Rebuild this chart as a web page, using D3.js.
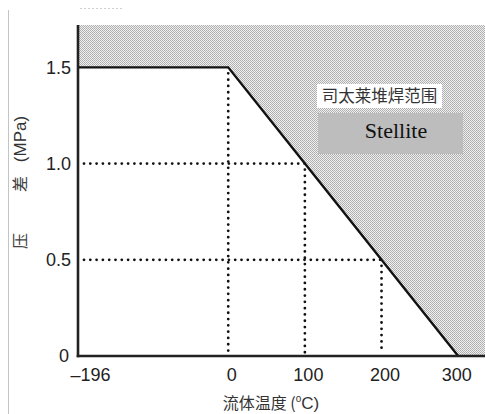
<!DOCTYPE html>
<html><head><meta charset="utf-8">
<script src="https://cdn.jsdelivr.net/npm/d3@7/dist/d3.min.js"></script>
<style>html,body{margin:0;padding:0;background:#fff;}svg{display:block;}</style>
</head><body>
<svg id="c" width="485" height="414"></svg>
<script>
// Data
const limitTemps = [-196, 0, 100, 200, 300];          // °C
const limitPressures = [1.5, 1.5, 1.0, 0.5, 0];       // MPa
const refTemps = [0, 100, 200];                        // dotted guide verticals
const refPressures = [1.5, 1.0, 0.5];
const xTicks = [-196, 0, 100, 200, 300];
const xTickLabels = ["\u2013196", "0", "100", "200", "300"];
const yTicks = [0, 0.5, 1.0, 1.5];
const yTickLabels = ["0", "0.5", "1.0", "1.5"];
const regionLabel = "司太莱堆焊范围";
const regionLabelEn = "Stellite";

const svg = d3.select("#c");
const x = d3.scaleLinear().domain([-196, 335]).range([78, 485]);
const y = d3.scaleLinear().domain([0, 1.72]).range([356, 25]);

// pattern
const defs = svg.append("defs");
const pat = defs.append("pattern").attr("id","dots").attr("patternUnits","userSpaceOnUse")
  .attr("width",2).attr("height",2);
pat.append("rect").attr("width",2).attr("height",2).attr("fill","#f0f0f0");
pat.append("rect").attr("x",0).attr("y",0).attr("width",1).attr("height",1).attr("fill","#acacac");
pat.append("rect").attr("x",1).attr("y",1).attr("width",1).attr("height",1).attr("fill","#b4b4b4");

// faint page border line and top marks
svg.append("line").attr("x1",8.5).attr("x2",8.5).attr("y1",10).attr("y2",414)
  .attr("stroke","#c4c4c4").attr("stroke-width",1);
svg.append("line").attr("x1",80).attr("x2",123).attr("y1",8.5).attr("y2",8.5)
  .attr("stroke","#d0d0d0").attr("stroke-width",1).attr("stroke-dasharray","2,2");

// shaded region above limit curve
const pts = limitTemps.map((t,i)=>[x(t), y(limitPressures[i])]);
const areaPts = [[x(-196), y(1.72)], ...pts, [x(335), y(0)], [x(335), y(1.72)]];
svg.append("path").attr("d", d3.line()(areaPts) + "Z").attr("fill","url(#dots)");

// dotted guides
const dotted = g => g.attr("stroke","#111").attr("stroke-width",2.8)
  .attr("stroke-linecap","round").attr("stroke-dasharray","0,6.3").attr("fill","none");
refTemps.forEach((t,i)=>{
  svg.append("line").attr("x1",x(t)).attr("x2",x(t)).attr("y1",y(refPressures[i])+6).attr("y2",y(0)-3).call(dotted);
});
refPressures.slice(1).forEach((p,i)=>{
  svg.append("line").attr("x1",x(-196)+6).attr("x2",x(refTemps[i+1])).attr("y1",y(p)).attr("y2",y(p)).call(dotted);
});

// limit line
svg.append("path").attr("d", d3.line()(pts)).attr("fill","none")
  .attr("stroke","#111").attr("stroke-width",2.4).attr("stroke-linejoin","miter");

// axes spines
svg.append("line").attr("x1",x(-196)).attr("x2",x(-196)).attr("y1",y(1.72)).attr("y2",y(0)+1.2)
  .attr("stroke","#222").attr("stroke-width",2.6);
svg.append("line").attr("x1",x(-196)-1.3).attr("x2",485).attr("y1",y(0)).attr("y2",y(0))
  .attr("stroke","#222").attr("stroke-width",2.6);

// axes tick labels via d3 axes
const yAxis = d3.axisLeft(y).tickValues(yTicks).tickSize(0).tickPadding(7)
  .tickFormat((d,i)=>yTickLabels[i]);
const gy = svg.append("g").attr("transform",`translate(${x(-196)},0)`).call(yAxis);
gy.select(".domain").remove();
gy.selectAll("text").attr("font-family","Liberation Sans, Arial, sans-serif").attr("font-size",18).attr("fill","#222")
  .attr("dx",(d)=> d===0 ? -2 : 0);

const xAxis = d3.axisBottom(x).tickValues(xTicks).tickSize(0).tickPadding(12)
  .tickFormat((d,i)=>xTickLabels[i]);
const gx = svg.append("g").attr("transform",`translate(0,${y(0)})`).call(xAxis);
gx.select(".domain").remove();
gx.selectAll("text").attr("font-family","Liberation Sans, Arial, sans-serif").attr("font-size",18).attr("fill","#222")
  .attr("dx",(d)=> d===-196 ? 12 : (d===300 ? -2 : 3));

// region labels
svg.append("rect").attr("x",317).attr("y",84).attr("width",125).attr("height",24).attr("fill","#fff");
svg.append("text").attr("x",379.5).attr("y",102).attr("text-anchor","middle")
  .attr("font-family","Noto Sans CJK SC, sans-serif").attr("font-size",16.5).attr("fill","#333")
  .text(regionLabel);
svg.append("rect").attr("x",318).attr("y",113).attr("width",145).attr("height",41).attr("fill","#bdbdbd");
svg.append("text").attr("x",396).attr("y",138).attr("text-anchor","middle")
  .attr("font-family","Liberation Serif, Times New Roman, serif").attr("font-size",22).attr("fill","#111")
  .text(regionLabelEn);

// axis titles
const yt = svg.append("g").attr("transform","translate(26,0) rotate(-90)");
yt.append("text").attr("x",-241).attr("y",0).attr("text-anchor","middle")
  .attr("font-family","Noto Sans CJK SC, sans-serif").attr("font-size",16).attr("fill","#444").text("压");
yt.append("text").attr("x",-184).attr("y",0).attr("text-anchor","middle")
  .attr("font-family","Noto Sans CJK SC, sans-serif").attr("font-size",16).attr("fill","#444").text("差");
yt.append("text").attr("x",-139).attr("y",0).attr("text-anchor","middle")
  .attr("font-family","Liberation Sans, Arial, sans-serif").attr("font-size",17).attr("fill","#333").text("(MPa)");

const xt = svg.append("text").attr("x",271).attr("y",409).attr("text-anchor","middle")
  .attr("font-family","Noto Sans CJK SC, sans-serif").attr("font-size",16).attr("fill","#333");
xt.append("tspan").text("流体温度 (");
xt.append("tspan").attr("font-family","Liberation Sans, Arial, sans-serif").attr("font-size",10).attr("dy",-7).text("o");
xt.append("tspan").attr("font-family","Liberation Sans, Arial, sans-serif").attr("font-size",17).attr("dy",7).text("C)");
</script>
</body></html>
